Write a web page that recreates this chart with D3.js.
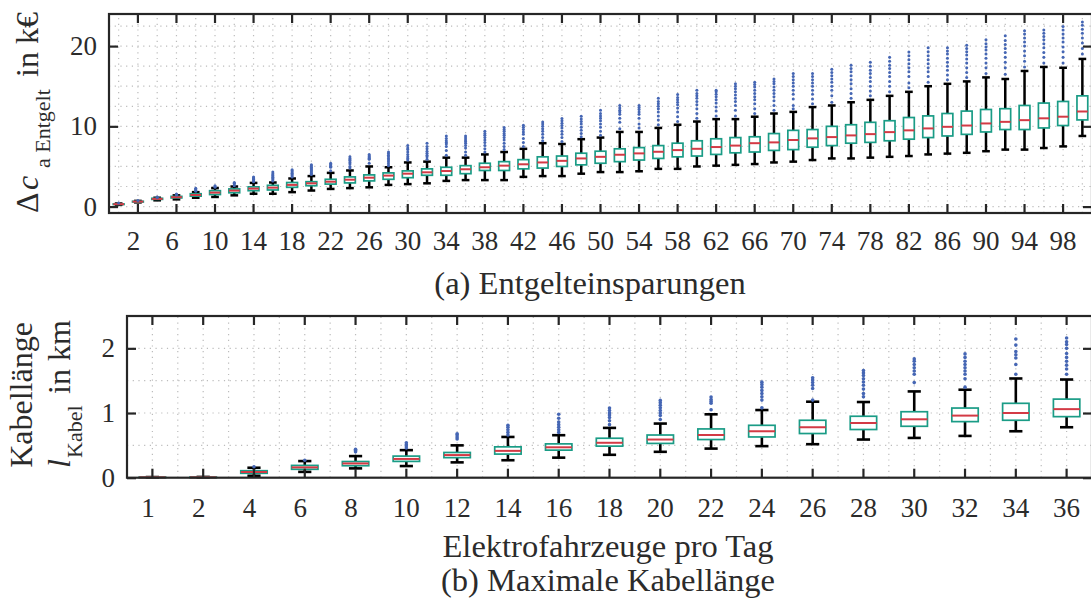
<!DOCTYPE html>
<html>
<head>
<meta charset="utf-8">
<script src="https://cdn.jsdelivr.net/npm/d3@7"></script>
<style>
  body { margin: 0; background: #fff; }
  svg text { font-family: "Liberation Serif", "Times New Roman", serif; fill: #2b2b2b; }
</style>
</head>
<body>
<div id="chart"></div>
<script>
// (a) Entgelteinsparungen, k€ per vehicle count
const catA = [1, 2, 4, 6, 8, 10, 12, 14, 16, 18, 20, 22, 24, 26, 28, 30, 32, 34, 36, 38, 40, 42, 44, 46, 48, 50,
              52, 54, 56, 58, 60, 62, 64, 66, 68, 70, 72, 74, 76, 78, 80, 82, 84, 86, 88, 90, 92, 94, 96, 98, 100];
const loA  = [0.22, 0.52, 0.78, 0.9, 1.1, 1.2, 1.4, 1.6, 1.6, 1.8, 2.0, 2.2, 2.3, 2.4, 2.7, 2.8, 2.9, 3.2, 3.3, 3.3, 3.3, 3.7, 3.8, 3.8, 4.1, 4.3,
              4.3, 4.4, 4.7, 4.7, 5.0, 5.1, 5.2, 5.3, 5.5, 5.6, 5.8, 6.0, 6.0, 6.1, 6.2, 6.3, 6.5, 6.6, 6.7, 6.9, 7.1, 7.1, 7.3, 7.5, 8.8];
const q1A  = [0.26, 0.57, 0.9, 1.08, 1.3, 1.5, 1.72, 1.98, 2.07, 2.4, 2.6, 2.8, 2.95, 3.2, 3.4, 3.6, 3.9, 3.9, 4.1, 4.5, 4.5, 4.7, 4.8, 5.0, 5.2, 5.4,
              5.6, 5.8, 6.0, 6.2, 6.3, 6.5, 6.7, 6.8, 7.0, 7.1, 7.4, 7.6, 7.9, 8.0, 8.2, 8.4, 8.6, 8.8, 9.0, 9.3, 9.6, 9.6, 9.8, 10.1, 10.8];
const medA = [0.3, 0.62, 0.96, 1.17, 1.45, 1.74, 1.99, 2.24, 2.36, 2.7, 2.9, 3.1, 3.35, 3.6, 3.86, 4.1, 4.27, 4.43, 4.65, 4.9, 5.1, 5.27, 5.5, 5.7, 6.0, 6.2,
              6.46, 6.63, 6.83, 7.04, 7.2, 7.42, 7.6, 7.9, 8.0, 8.3, 8.5, 8.66, 8.87, 9.03, 9.28, 9.5, 9.74, 9.94, 10.1, 10.36, 10.56, 10.77, 11.0, 11.2, 11.85];
const q3A  = [0.33, 0.66, 1.03, 1.27, 1.6, 1.98, 2.2, 2.46, 2.65, 3.0, 3.1, 3.4, 3.7, 3.95, 4.2, 4.45, 4.7, 4.9, 5.1, 5.4, 5.6, 5.85, 6.2, 6.3, 6.65, 6.9,
              7.2, 7.35, 7.6, 7.9, 8.2, 8.45, 8.6, 8.7, 9.1, 9.5, 9.6, 10.0, 10.2, 10.5, 10.7, 11.1, 11.3, 11.6, 11.9, 12.1, 12.2, 12.6, 12.9, 13.1, 13.8];
const hiA  = [0.38, 0.71, 1.1, 1.4, 1.8, 2.3, 2.5, 2.95, 3.0, 3.5, 3.8, 4.2, 4.5, 5.0, 4.9, 5.5, 5.6, 6.1, 6.1, 6.5, 6.8, 7.2, 7.9, 7.8, 8.4, 8.6,
              9.3, 9.3, 9.8, 10.2, 10.6, 10.9, 10.9, 11.2, 11.6, 11.8, 12.4, 12.6, 13.0, 13.3, 13.8, 14.3, 15.0, 15.3, 15.6, 16.1, 15.9, 16.9, 17.4, 17.3, 18.4];
const outA = [
  [0.45], [0.76], [1.14, 1.18], [1.45, 1.5, 1.56], [1.9, 2.0, 2.1, 2.2, 2.3], [2.4, 2.5, 2.6], [2.6, 2.8, 2.9, 3.0],
  [3.1, 3.2, 3.3, 3.4, 3.5, 3.6, 3.7], [3.2, 3.35, 3.5, 3.65, 3.8, 3.95, 4.1, 4.3], [3.7, 3.85, 4.0, 4.15, 4.3, 4.45, 4.6],
  [4.0, 4.15, 4.3, 4.45, 4.6, 4.75, 4.9, 5.05, 5.2], [4.45, 4.9, 5.0, 5.1, 5.25, 5.4], [4.8, 5.0, 5.3, 5.5, 5.7, 5.85, 6.0, 6.2],
  [5.4, 5.9, 6.0, 6.1, 6.2, 6.35, 6.5], [5.1, 5.35, 5.6, 5.8, 6.0, 6.2, 6.4, 6.6, 6.8], [5.8, 6.0, 6.2, 6.5, 6.8, 7.1, 7.3, 7.6],
  [5.9, 6.2, 6.4, 6.65, 6.9, 7.2, 7.5, 7.9], [6.4, 7.0, 7.5, 7.8, 8.0, 8.2, 8.5, 8.8], [6.4, 6.8, 7.3, 7.6, 7.9, 8.1, 8.3, 8.55, 8.8],
  [6.8, 7.2, 7.6, 8.0, 8.3, 8.6, 8.9, 9.1, 9.4], [7.1, 7.5, 7.9, 8.3, 8.6, 8.9, 9.1, 9.4, 9.6, 9.86], [7.5, 8.0, 8.5, 9.0, 9.3, 9.6, 9.9, 10.15],
  [8.2, 8.6, 9.0, 9.4, 9.7, 10.0, 10.3, 10.55], [8.1, 8.6, 9.0, 9.4, 9.8, 10.1, 10.4, 10.7, 10.98], [8.7, 9.1, 9.5, 9.9, 10.3, 10.6, 10.9, 11.27],
  [8.9, 9.4, 9.9, 10.3, 10.7, 11.0, 11.3, 11.6, 12.0], [9.7, 10.5, 11.0, 11.5, 11.8, 12.0, 12.3, 12.6], [9.8, 10.3, 11.0, 11.5, 11.8, 12.1, 12.35, 12.6],
  [10.2, 10.8, 11.3, 11.8, 12.2, 12.5, 12.8, 13.1, 13.5], [10.6, 11.2, 11.8, 12.3, 12.7, 13.0, 13.3, 13.6, 13.96],
  [11.0, 11.6, 12.2, 12.7, 13.1, 13.5, 13.8, 14.1, 14.5], [11.3, 11.9, 12.4, 12.9, 13.3, 13.7, 14.0, 14.3, 14.5],
  [11.3, 12.0, 12.6, 13.1, 13.5, 13.9, 14.3, 14.7, 15.0, 15.3], [11.6, 12.2, 12.8, 13.3, 13.7, 14.1, 14.5, 14.9, 15.2, 15.5],
  [12.0, 12.6, 13.2, 13.7, 14.1, 14.5, 14.9, 15.3, 15.6, 15.9], [12.2, 12.6, 13.4, 14.0, 14.5, 15.0, 15.4, 15.8, 16.2, 16.6],
  [12.8, 13.4, 14.0, 14.5, 15.0, 15.4, 15.8, 16.2, 16.6], [13.0, 13.8, 14.5, 15.0, 15.5, 15.9, 16.3, 16.7, 17.1],
  [13.5, 14.1, 14.7, 15.3, 15.8, 16.3, 16.8, 17.2, 17.6], [13.8, 14.4, 15.0, 15.6, 16.1, 16.6, 17.0, 17.5, 18.0],
  [14.3, 15.0, 15.6, 16.2, 16.7, 17.2, 17.6, 18.1, 18.6], [14.8, 15.4, 16.2, 16.8, 17.3, 17.8, 18.3, 18.8, 19.25],
  [15.5, 16.2, 16.8, 17.3, 17.8, 18.3, 18.8, 19.3, 19.8], [15.8, 16.4, 17.0, 17.5, 18.0, 18.5, 19.0, 19.4, 19.8],
  [16.1, 16.7, 17.3, 17.9, 18.4, 18.9, 19.3, 19.7, 20.1], [16.6, 17.3, 17.9, 18.5, 19.0, 19.5, 19.9, 20.3, 20.8],
  [16.5, 17.3, 18.0, 18.6, 19.2, 19.7, 20.2, 20.7, 21.3], [17.4, 18.1, 18.8, 19.4, 20.0, 20.5, 21.0, 21.5, 21.9],
  [17.9, 18.6, 19.2, 19.8, 20.3, 20.8, 21.2, 21.6, 22.0], [17.9, 18.6, 19.3, 19.9, 20.5, 21.0, 21.5, 22.0, 22.45],
  [19.0, 19.7, 20.4, 21.0, 21.6, 22.1, 22.6, 23.0]
];
const tickA = [2, 6, 10, 14, 18, 22, 26, 30, 34, 38, 42, 46, 50, 54, 58, 62, 66, 70, 74, 78, 82, 86, 90, 94, 98];
const yTicksA = [0, 10, 20];
const gridYA = [0, 2.5, 5, 7.5, 10, 12.5, 15, 17.5, 20, 22.5];

// (b) Maximale Kabellänge, km
const catB = [1, 2, 4, 6, 8, 10, 12, 14, 16, 18, 20, 22, 24, 26, 28, 30, 32, 34, 36];
const loB  = [0, 0, 0.03, 0.09, 0.144, 0.18, 0.237, 0.27, 0.31, 0.354, 0.4, 0.45, 0.488, 0.518, 0.59, 0.615, 0.646, 0.718, 0.78];
const q1B  = [0, 0, 0.068, 0.13, 0.185, 0.252, 0.31, 0.365, 0.426, 0.488, 0.53, 0.59, 0.63, 0.683, 0.745, 0.795, 0.867, 0.888, 0.944];
const medB = [0.005, 0.005, 0.088, 0.16, 0.22, 0.29, 0.35, 0.415, 0.47, 0.54, 0.59, 0.66, 0.718, 0.78, 0.846, 0.903, 0.96, 1.0, 1.06];
const q3B  = [0.01, 0.01, 0.108, 0.19, 0.25, 0.334, 0.39, 0.477, 0.523, 0.61, 0.66, 0.754, 0.81, 0.888, 0.95, 1.02, 1.077, 1.15, 1.215];
const hiB  = [0.01, 0.012, 0.154, 0.257, 0.334, 0.426, 0.5, 0.63, 0.657, 0.77, 0.837, 0.98, 1.046, 1.175, 1.17, 1.334, 1.36, 1.534, 1.518];
const outB = [
  [], [], [0.17], [0.27], [0.40, 0.42, 0.44], [0.46, 0.49, 0.51, 0.54], [0.6, 0.63, 0.66, 0.68],
  [0.66, 0.7, 0.74, 0.78, 0.81], [0.7, 0.74, 0.78, 0.82, 0.86, 0.92, 0.98], [0.82, 0.88, 0.93, 0.97, 1.0, 1.04, 1.077],
  [0.9, 0.96, 1.0, 1.04, 1.08, 1.12, 1.16, 1.195], [1.05, 1.15, 1.18, 1.21, 1.246], [1.08, 1.2, 1.25, 1.3, 1.35, 1.4, 1.44, 1.477],
  [1.2, 1.38, 1.43, 1.47, 1.51, 1.544], [1.25, 1.3, 1.37, 1.43, 1.48, 1.53, 1.58, 1.62, 1.657], [1.47, 1.6, 1.65, 1.7, 1.75, 1.8, 1.837],
  [1.4, 1.53, 1.6, 1.65, 1.7, 1.75, 1.8, 1.86, 1.914], [1.6, 1.75, 1.85, 1.9, 1.95, 2.05, 2.145],
  [1.6, 1.68, 1.74, 1.8, 1.86, 1.92, 2.0, 2.06, 2.1, 2.16]
];
const yTicksB = [0, 1, 2];
const gridYB = [0.5, 1, 1.5, 2];

var svg = d3.select("#chart").append("svg")
    .attr("width", 1091)
    .attr("height", 599);

var frameColor = "#262626";

function panel(p) {
  var g = svg.append("g");
  var x = p.x, y = p.y;
  var cx = d => x(d) + x.bandwidth() / 2;
  var [x0, x1] = x.range();
  var [y0, y1] = y.range();

  // dotted grid
  g.selectAll(".gh").data(p.gridY).join("line")
    .attr("x1", x0).attr("x2", x1)
    .attr("y1", d => y(d)).attr("y2", d => y(d))
    .attr("stroke", "#bcbcbc").attr("stroke-width", 1.2).attr("stroke-dasharray", "1.2,4.5");
  g.selectAll(".gv").data(p.gridX).join("line")
    .attr("x1", d => d).attr("x2", d => d)
    .attr("y1", y0).attr("y2", y1)
    .attr("stroke", "#bcbcbc").attr("stroke-width", 1.2).attr("stroke-dasharray", "1.2,4.5");

  var data = p.cats.map((c, i) => ({c: c, lo: p.lo[i], q1: p.q1[i], med: p.med[i], q3: p.q3[i], hi: p.hi[i], out: p.out[i]}));
  var bw = x.bandwidth() * p.boxFrac;
  var cw = x.bandwidth() * p.capFrac;

  var b = g.selectAll(".box").data(data).join("g");
  b.append("line")
    .attr("x1", d => cx(d.c)).attr("x2", d => cx(d.c))
    .attr("y1", d => y(d.lo)).attr("y2", d => y(d.hi))
    .attr("stroke", "#000").attr("stroke-width", p.whisker);
  b.append("line")
    .attr("x1", d => cx(d.c) - cw / 2).attr("x2", d => cx(d.c) + cw / 2)
    .attr("y1", d => y(d.lo)).attr("y2", d => y(d.lo))
    .attr("stroke", "#000").attr("stroke-width", p.whisker);
  b.append("line")
    .attr("x1", d => cx(d.c) - cw / 2).attr("x2", d => cx(d.c) + cw / 2)
    .attr("y1", d => y(d.hi)).attr("y2", d => y(d.hi))
    .attr("stroke", "#000").attr("stroke-width", p.whisker);
  b.append("rect")
    .attr("x", d => cx(d.c) - bw / 2).attr("width", bw)
    .attr("y", d => y(d.q3)).attr("height", d => Math.max(0, y(d.q1) - y(d.q3)))
    .attr("fill", "#fff").attr("stroke", "#1a9c86").attr("stroke-width", 1.7);
  b.append("line")
    .attr("x1", d => cx(d.c) - bw / 2).attr("x2", d => cx(d.c) + bw / 2)
    .attr("y1", d => y(d.med)).attr("y2", d => y(d.med))
    .attr("stroke", "#d33a45").attr("stroke-width", 2);
  b.selectAll("circle").data(d => d.out.map(v => ({c: d.c, v: v}))).join("circle")
    .attr("cx", d => cx(d.c)).attr("cy", d => y(d.v))
    .attr("r", p.dot).attr("fill", "#4566b4");

  // frame + inward ticks
  g.append("rect")
    .attr("x", x0).attr("y", y1).attr("width", x1 - x0).attr("height", y0 - y1)
    .attr("fill", "none").attr("stroke", frameColor).attr("stroke-width", 2.2);

  var bottom = g.append("g").attr("transform", `translate(0,${y0})`)
    .call(d3.axisBottom(x).tickValues(p.ticks).tickSize(-9).tickPadding(p.xPad));
  var top = g.append("g").attr("transform", `translate(0,${y1})`)
    .call(d3.axisTop(x).tickValues(p.ticks).tickSize(-9).tickFormat(""));
  var left = g.append("g").attr("transform", `translate(${x0},0)`)
    .call(d3.axisLeft(y).tickValues(p.yTicks).tickSize(-9).tickPadding(12).tickFormat(d => d));
  var right = g.append("g").attr("transform", `translate(${x1},0)`)
    .call(d3.axisRight(y).tickValues(p.yTicks).tickSize(-9).tickFormat(""));

  [bottom, top, left, right].forEach(a => {
    a.select(".domain").remove();
    a.selectAll(".tick line").attr("stroke", frameColor).attr("stroke-width", 2.2);
    a.selectAll("text").attr("font-size", 27).attr("font-family", null).attr("fill", "#2b2b2b");
  });
  bottom.selectAll("text").attr("dx", d => String(d).length === 1 ? -4.5 : 0);
  return g;
}

var xA = d3.scaleBand().domain(catA).range([109, 1092]);
var yA = d3.scaleLinear().domain([-0.8, 24]).range([213, 14]);
panel({
  x: xA, y: yA, cats: catA, lo: loA, q1: q1A, med: medA, q3: q3A, hi: hiA, out: outA,
  ticks: tickA, yTicks: yTicksA, gridY: gridYA,
  gridX: catA.map(c => xA(c) + xA.bandwidth() / 2),
  boxFrac: 0.56, capFrac: 0.4, whisker: 2.5, dot: 1.5, xPad: 18
});

var xB = d3.scaleBand().domain(catB).range([127, 1092]);
var yB = d3.scaleLinear().domain([0, 2.5]).range([477.7, 316]);
panel({
  x: xB, y: yB, cats: catB, lo: loB, q1: q1B, med: medB, q3: q3B, hi: hiB, out: outB,
  ticks: catB, yTicks: yTicksB, gridY: gridYB,
  gridX: catB.flatMap((c, i) => i === 0 ? [xB(c) + xB.bandwidth() / 2] : [xB(c), xB(c) + xB.bandwidth() / 2]),
  boxFrac: 0.52, capFrac: 0.26, whisker: 2.6, dot: 1.8, xPad: 20
});

// axis titles and captions
var fs = 32;
svg.append("text").attr("x", 590).attr("y", 294).attr("text-anchor", "middle")
  .attr("font-size", 32.5).text("(a) Entgelteinsparungen");
svg.append("text").attr("x", 608).attr("y", 557).attr("text-anchor", "middle")
  .attr("font-size", 32.5).text("Elektrofahrzeuge pro Tag");
svg.append("text").attr("x", 608).attr("y", 591).attr("text-anchor", "middle")
  .attr("font-size", 32.5).text("(b) Maximale Kabellänge");

// y label top: Δc_{a Entgelt} in k€
var la = svg.append("text").attr("transform", "rotate(-90)").attr("font-size", fs);
la.append("tspan").attr("x", -213).attr("y", 38).text("Δ");
la.append("tspan").attr("x", -190).attr("y", 38).attr("font-style", "italic").text("c");
la.append("tspan").attr("x", -168).attr("y", 50).attr("font-size", 22).text("a Entgelt");
la.append("tspan").attr("x", -77).attr("y", 38).text("in k€");

// y label bottom: Kabellänge / l_Kabel in km
svg.append("text").attr("transform", "rotate(-90)").attr("font-size", fs)
  .attr("x", -395).attr("y", 32).attr("text-anchor", "middle").text("Kabellänge");
var lb = svg.append("text").attr("transform", "rotate(-90)").attr("font-size", fs);
lb.append("tspan").attr("x", -468).attr("y", 70).attr("font-style", "italic").text("l");
lb.append("tspan").attr("x", -458).attr("y", 82).attr("font-size", 22).text("Kabel");
lb.append("tspan").attr("x", -394).attr("y", 70).text("in km");
</script>
</body>
</html>
